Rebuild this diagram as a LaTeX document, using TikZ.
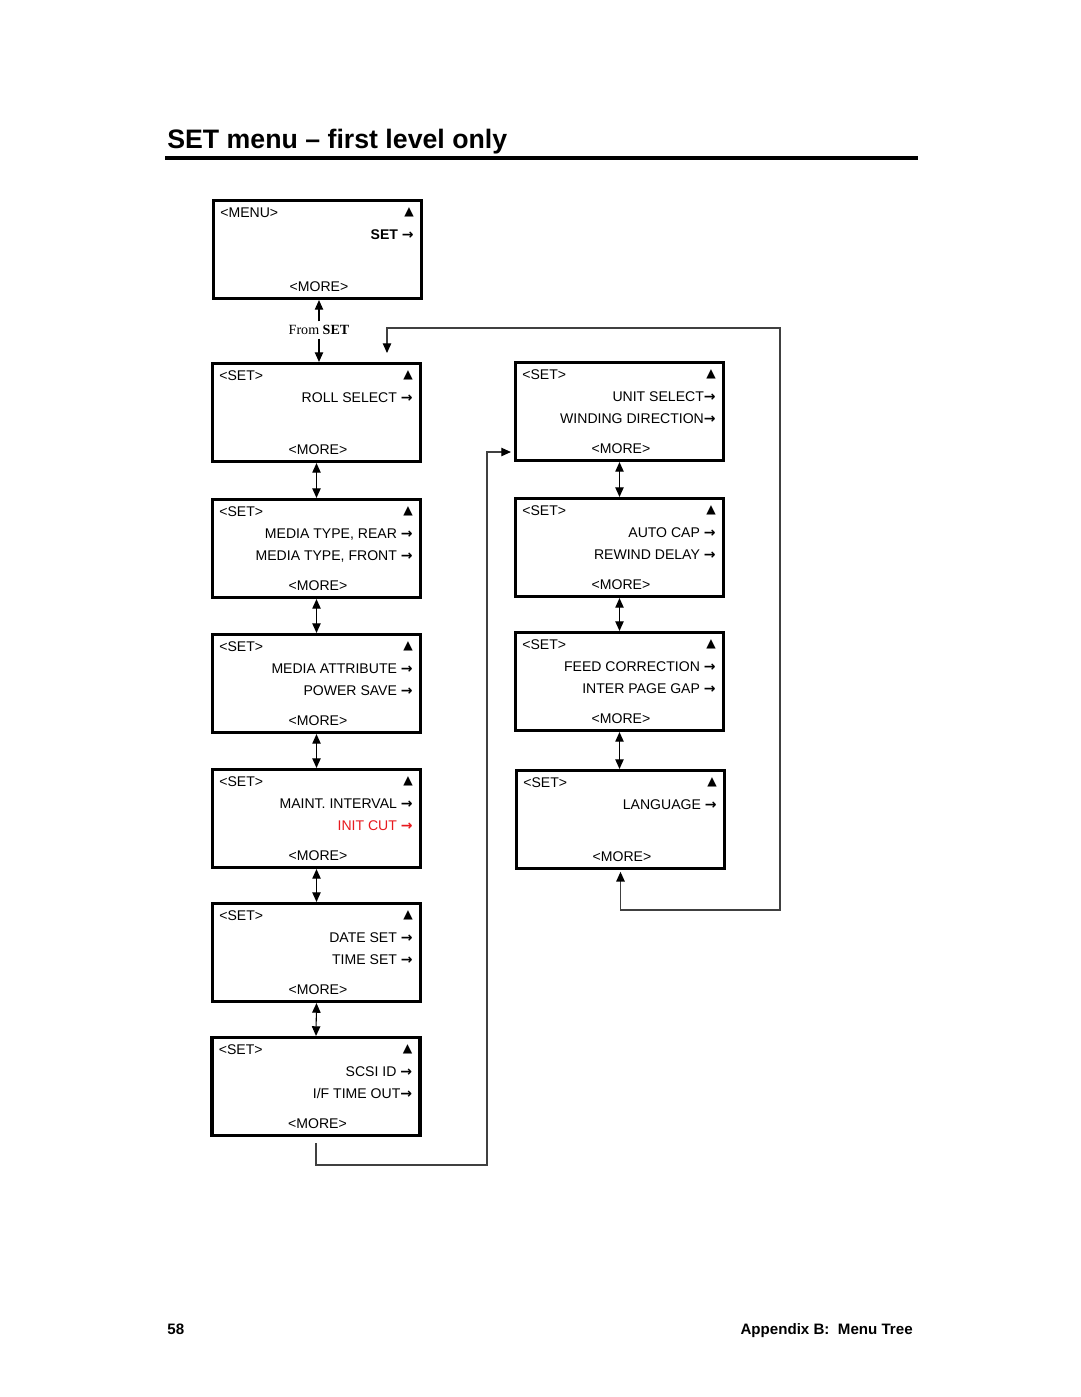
\documentclass[tikz,border=0pt]{standalone}
\usepackage{fontspec}
\setmainfont{Liberation Sans}
\newfontfamily\serifft{Liberation Serif}
\newfontfamily\symfont{DejaVu Sans}
\usepackage{xcolor}
\usepackage{tikz}
\usetikzlibrary{arrows.meta}

\definecolor{initred}{RGB}{232,25,30}
\newcommand{\go}{{\symfont\bfseries →}}
% text lines of one menu box: name, first item, second item, head
\newcommand{\menulines}[4]{%
    \node[headtext] (#1head) at ([shift={(-97.5,-32.5)}]#1.center) {#4};
    \node[uptext]   (#1up)   at ([shift={(91.5,-37.5)}]#1.center) {▲};
    \node[itemtext] (#1a)    at ([shift={(96.5,-10.5)}]#1.center) {#2};
    \node[itemtext] (#1b)    at ([shift={(96.5,11.5)}]#1.center) {#3};
    \node[moretext] (#1more) at ([shift={(1.5,41.5)}]#1.center) {<MORE>};
}

\begin{document}
\begin{tikzpicture}[x=0.02cm, y=-0.02cm,
        menubox/.style={rectangle, draw=black, line width=1.8pt, minimum width=4.16cm, minimum height=1.96cm, inner sep=0pt},
        headtext/.style={anchor=base west, inner sep=0pt, font=\fontsize{8}{9}\selectfont},
        itemtext/.style={anchor=base east, inner sep=0pt, font=\fontsize{8}{9}\selectfont},
        moretext/.style={anchor=base, inner sep=0pt, font=\fontsize{8}{9}\selectfont},
        uptext/.style={inner sep=0pt, font=\symfont\fontsize{7}{8}\selectfont},
        stepline/.style={{Triangle[length=5.5pt,width=4.8pt,black]}-{Triangle[length=5.5pt,width=4.8pt,black]}, line width=0.6pt},
        oneline/.style={-{Triangle[length=5.5pt,width=4.8pt,black]}, line width=0.6pt},
        loopline/.style={line width=0.6pt, draw=black!75},
    ]
    \useasboundingbox (0,0) rectangle (1080,1397);
    %Page
    \node[anchor=base west, inner sep=0pt, font=\bfseries\fontsize{15.2}{18}\selectfont] (title) at (167,148) {SET menu -- first level only};
    \draw[line width=2.3pt] (165,158) -- (918,158);
    \node[anchor=base west, inner sep=0pt, font=\bfseries\fontsize{8.6}{10}\selectfont] (pageno) at (167,1334) {58};
    \node[anchor=base east, inner sep=0pt, font=\bfseries\fontsize{8.6}{10}\selectfont] (pagehead) at (913,1334) {Appendix B:\ \ Menu Tree};
    %Nodes
    \node[menubox] (menu)     at (317.5,249.5) {};
    \node[menubox] (roll)     at (316.5,412.5) {};
    \node[menubox] (mediatype) at (316.5,548.5) {};
    \node[menubox] (attr)     at (316.5,683.5) {};
    \node[menubox] (maint)    at (316.5,818.5) {};
    \node[menubox] (date)     at (316.5,952.5) {};
    \node[menubox] (scsi)     at (316,1086.5) {};
    \node[menubox] (unitsel)  at (619.5,411.5) {};
    \node[menubox] (autocap)  at (619.5,547.5) {};
    \node[menubox] (feed)     at (619.5,681.5) {};
    \node[menubox] (lang)     at (620.5,819.5) {};
    \node[inner sep=2pt, font=\serifft\fontsize{8}{9}\selectfont] (fromset) at (319,330) {From \textbf{SET}};
    %Texts
    \menulines{menu}{\textbf{SET} \go}{}{<MENU>}
    \menulines{roll}{ROLL SELECT \go}{}{<SET>}
    \menulines{mediatype}{MEDIA TYPE, REAR \go}{MEDIA TYPE, FRONT \go}{<SET>}
    \menulines{attr}{MEDIA ATTRIBUTE \go}{POWER SAVE \go}{<SET>}
    \menulines{maint}{MAINT. INTERVAL \go}{\textcolor{initred}{INIT CUT \go}}{<SET>}
    \menulines{date}{DATE SET \go}{TIME SET \go}{<SET>}
    \menulines{scsi}{SCSI ID \go}{I/F TIME OUT\go}{<SET>}
    \menulines{unitsel}{UNIT SELECT\go}{WINDING DIRECTION\go}{<SET>}
    \menulines{autocap}{AUTO CAP \go}{REWIND DELAY \go}{<SET>}
    \menulines{feed}{FEED CORRECTION \go}{INTER PAGE GAP \go}{<SET>}
    \menulines{lang}{LANGUAGE \go}{}{<SET>}
    %Coordinates
    \coordinate (backin) at (387,353);
    \coordinate (rtop) at (780,328);
    \coordinate (rbot) at (780,910);
    \coordinate (lbot) at (487,1165);
    \coordinate (lin) at (487,452);
    %Lines
    \draw[oneline] (fromset.north) -- (fromset.north |- menu.south);
    \draw[oneline] (fromset.south) -- (fromset.south |- roll.north);
    \draw[stepline] (roll.south) -- (mediatype.north);
    \draw[stepline] (mediatype.south) -- (attr.north);
    \draw[stepline] (attr.south) -- (maint.north);
    \draw[stepline] (maint.south) -- (date.north);
    \draw[stepline] (date.south) -- (scsi.north);
    \draw[stepline] (unitsel.south) -- (autocap.north);
    \draw[stepline] (autocap.south) -- (feed.north);
    \draw[stepline] (feed.south) -- (feed.south |- lang.north);
    \draw[loopline, stepline, shorten <=1pt] (lang.south) |- (rbot) -- (rtop) -| (backin);
    \draw[loopline, oneline, shorten <=3.4pt, shorten >=1.7pt] (scsi.south) |- (lbot) -- (lin) -- (lin -| unitsel.west);
\end{tikzpicture}
\end{document}
